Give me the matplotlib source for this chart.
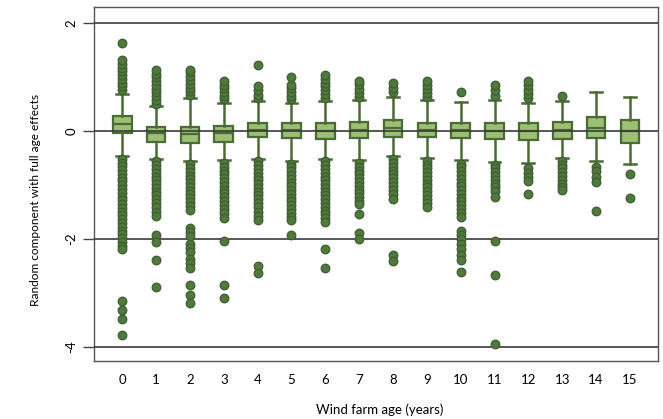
import numpy as np
import matplotlib
matplotlib.use("Agg")
import matplotlib.pyplot as plt

plt.rcParams['font.family'] = ['Lato', 'DejaVu Sans']

# =========================
# data
# =========================
ages = list(range(16))

q1 = [-0.04, -0.20, -0.22, -0.20, -0.12, -0.14, -0.15, -0.14,
      -0.12, -0.12, -0.14, -0.16, -0.17, -0.15, -0.13, -0.23]
med = [0.13, -0.05, -0.06, -0.04, 0.02, 0.01, 0.00, 0.02,
       0.05, 0.02, 0.02, 0.00, 0.00, 0.02, 0.05, 0.00]
q3 = [0.28, 0.07, 0.07, 0.08, 0.15, 0.15, 0.15, 0.16,
      0.20, 0.15, 0.14, 0.15, 0.14, 0.16, 0.25, 0.20]
whis_lo = [-0.46, -0.52, -0.57, -0.55, -0.52, -0.56, -0.52, -0.55,
           -0.47, -0.50, -0.55, -0.58, -0.60, -0.50, -0.57, -0.62]
whis_hi = [0.68, 0.45, 0.60, 0.52, 0.55, 0.52, 0.55, 0.57,
           0.62, 0.57, 0.53, 0.57, 0.52, 0.55, 0.72, 0.62]

fliers_0 = [0.75, 0.82, 0.89, 0.96, 1.03, 1.10, 1.17, 1.24, 1.31, 1.63,
            -0.52, -0.59, -0.66, -0.73, -0.80, -0.87, -0.94, -1.01, -1.08,
            -1.15, -1.22, -1.29, -1.36, -1.43, -1.50, -1.57, -1.64, -1.71,
            -1.78, -1.85, -1.92, -1.99, -2.06, -2.13, -2.20,
            -3.15, -3.33, -3.48, -3.78]
fliers_1 = [0.50, 0.57, 0.64, 0.71, 0.78, 0.85, 0.92, 0.99, 1.06, 1.13,
            -0.57, -0.64, -0.71, -0.78, -0.85, -0.92, -0.99, -1.06, -1.13,
            -1.20, -1.27, -1.34, -1.42, -1.50, -1.58,
            -1.93, -2.07, -2.40, -2.90]
fliers_2 = [0.66, 0.73, 0.80, 0.87, 0.94, 1.01, 1.08, 1.12,
            -0.62, -0.69, -0.76, -0.83, -0.90, -0.97, -1.04, -1.11, -1.18,
            -1.25, -1.32, -1.39, -1.46, -1.80, -1.88, -1.95, -2.10, -2.18,
            -2.25, -2.37, -2.45, -2.55, -2.85, -3.05, -3.20]
fliers_3 = [0.58, 0.65, 0.72, 0.79, 0.85, 0.93,
            -0.60, -0.67, -0.74, -0.81, -0.88, -0.95, -1.02, -1.09, -1.16,
            -1.23, -1.30, -1.37, -1.45, -1.53, -1.62,
            -2.05, -2.85, -3.10]
fliers_4 = [0.60, 0.67, 0.75, 0.82, 1.22,
            -0.57, -0.64, -0.71, -0.78, -0.85, -0.92, -0.99, -1.06, -1.13,
            -1.20, -1.27, -1.34, -1.42, -1.50, -1.58, -1.65,
            -2.50, -2.63]
fliers_5 = [0.58, 0.65, 0.72, 0.79, 0.85, 1.00,
            -0.61, -0.68, -0.75, -0.82, -0.89, -0.96, -1.03, -1.10, -1.17,
            -1.24, -1.31, -1.38, -1.45, -1.52, -1.59, -1.65,
            -1.93]
fliers_6 = [0.61, 0.68, 0.75, 0.82, 0.89, 0.96, 1.03,
            -0.57, -0.64, -0.71, -0.78, -0.85, -0.92, -0.99, -1.06, -1.13,
            -1.20, -1.27, -1.34, -1.41, -1.48, -1.55, -1.62, -1.70,
            -2.20, -2.55]
fliers_7 = [0.63, 0.70, 0.78, 0.86, 0.93,
            -0.60, -0.67, -0.74, -0.81, -0.88, -0.95, -1.02, -1.09, -1.16,
            -1.23, -1.30, -1.36, -1.55, -1.90, -2.00]
fliers_8 = [0.72, 0.80, 0.88,
            -0.53, -0.60, -0.67, -0.74, -0.81, -0.88, -0.95, -1.02,
            -1.10, -1.18, -1.27, -2.30, -2.42]
fliers_9 = [0.62, 0.69, 0.77, 0.85, 0.92,
            -0.56, -0.63, -0.70, -0.77, -0.84, -0.91, -0.98, -1.05, -1.12,
            -1.19, -1.26, -1.33, -1.41]
fliers_10 = [0.72,
             -0.61, -0.68, -0.75, -0.82, -0.89, -0.96, -1.03, -1.10, -1.17,
             -1.24, -1.31, -1.38, -1.45, -1.52, -1.60,
             -1.85, -1.93, -2.00, -2.10, -2.20, -2.30, -2.40, -2.62]
fliers_11 = [0.65, 0.75, 0.85,
             -0.63, -0.70, -0.77, -0.84, -0.91, -0.98, -1.05, -1.12, -1.22,
             -2.05, -2.68, -3.95]
fliers_12 = [0.60, 0.68, 0.76, 0.85, 0.93,
             -0.70, -0.78, -0.86, -0.93, -1.17]
fliers_13 = [0.65,
             -0.56, -0.63, -0.70, -0.77, -0.84, -0.91, -0.98, -1.05, -1.10]
fliers_14 = [-0.67, -0.75, -0.85, -0.95, -1.48]
fliers_15 = [-0.80, -1.25]

fliers = [fliers_0, fliers_1, fliers_2, fliers_3, fliers_4, fliers_5,
          fliers_6, fliers_7, fliers_8, fliers_9, fliers_10, fliers_11,
          fliers_12, fliers_13, fliers_14, fliers_15]

ref_lines = [-4, -2, 0, 2]

# =========================
# plot
# =========================
dark = '#4a6b35'
fill = '#9dbf73'

fig = plt.figure(figsize=(6.63, 4.19), dpi=100)
ax = fig.add_axes([0.142, 0.138, 0.85, 0.845])

stats = []
for i in range(len(ages)):
    stats.append({"med": med[i], "q1": q1[i], "q3": q3[i],
                  "whislo": whis_lo[i], "whishi": whis_hi[i],
                  "fliers": fliers[i]})

ax.bxp(stats, positions=ages, widths=0.55, patch_artist=True,
       showfliers=True, manage_ticks=False,
       boxprops=dict(facecolor=fill, edgecolor=dark, linewidth=1.6),
       medianprops=dict(color=dark, linewidth=1.6),
       whiskerprops=dict(color=dark, linewidth=1.8),
       capprops=dict(color=dark, linewidth=1.8),
       flierprops=dict(marker='o', markersize=6.2, markerfacecolor='#4f7a3b',
                       markeredgecolor='#3f5c33', markeredgewidth=0.9,
                       linestyle='none'),
       capwidths=0.35, zorder=2)

for y in ref_lines:
    ax.axhline(y, color='#3a3a3a', linewidth=1.2, zorder=3)

for art in ax.lines:
    if art.get_marker() == 'o':
        art.set_zorder(4)

ax.set_xlim(-0.83, 15.82)
ax.set_ylim(-4.27, 2.29)
ax.set_xticks(ages)
ax.set_xticklabels([str(a) for a in ages], fontsize=9.5)
ax.set_yticks(ref_lines)
ax.set_yticklabels([str(v) for v in ref_lines], rotation=90, va='center',
                   fontsize=9.5)
ax.tick_params(axis='x', length=0, pad=9)
ax.tick_params(axis='y', length=8, width=1, color='#444444', pad=4)

for s in ax.spines.values():
    s.set_color('#555555')
    s.set_linewidth(1.0)

fig.text(0.573, 0.022, "Wind farm age (years)", ha='center', va='center',
         fontsize=9.5)
fig.text(0.053, 0.523, "Random component with full age effects",
         ha='center', va='center', rotation=90, fontsize=8.6)

plt.savefig("out.png", dpi=100)
